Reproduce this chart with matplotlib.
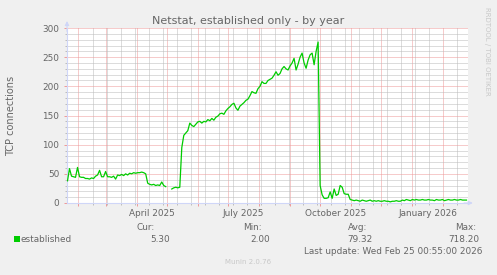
import numpy as np
import matplotlib
matplotlib.use("Agg")
import matplotlib.pyplot as plt
import matplotlib.dates as mdates
from matplotlib.ticker import MultipleLocator, FixedLocator

# Munin "netstat established" - by year, one sample every 2 days
start = np.datetime64("2025-01-22")
step_days = 2

before_gap = [38, 59, 46, 45, 44, 61, 45, 44, 44, 42, 42, 41, 43, 42, 46, 48,
              56, 45, 45, 54, 45, 45, 44, 46, 41, 48, 47, 49, 47, 50, 48, 51,
              50, 52, 51, 52, 52, 53, 52, 50, 34, 32, 31, 32, 30, 31, 30, 36,
              30, 28]
gap = [np.nan, np.nan]
climb = [24, 26, 27, 26, 27, 95, 116, 120, 124, 137, 133, 131, 135, 139, 140,
         137, 140, 139, 143, 141, 145, 142, 147, 149, 153, 154, 152, 158, 162,
         165, 169, 171, 163, 159, 166, 169, 172, 176, 178, 184, 191, 189, 188,
         196, 200, 208, 205, 205, 210, 212, 214, 219, 225, 219, 222, 230, 234,
         230, 228, 235, 240, 248, 228, 238, 250, 257, 240, 231, 245, 254, 257,
         237, 260, 276]
after_drop = [30, 14, 8, 8, 9, 19, 8, 24, 13, 15, 30, 27, 16, 15, 15, 6,
              5, 4, 5, 4, 3, 5, 4, 3, 4, 5, 3, 4, 3, 4, 3, 3, 4, 3, 3, 2,
              3, 3, 4, 3, 3, 5, 4, 6, 5, 4, 6, 5, 6, 5, 5, 6, 5, 5, 6, 5,
              5, 4, 6, 5, 5, 6, 4, 5, 6, 5, 5, 6, 5, 5, 6, 5, 5, 5]

values = np.array(before_gap + gap + climb + after_drop, dtype=float)
dates = start + np.arange(len(values)) * np.timedelta64(step_days, "D")

month_labels = ["April 2025", "July 2025", "October 2025", "January 2026"]
label_dates = ["2025-04-16", "2025-07-16", "2025-10-16", "2026-01-16"]

legend_heads = ["Cur:", "Min:", "Avg:", "Max:"]
legend_vals = ["5.30", "2.00", "79.32", "718.20"]

BACK = "#F0F0F0"
FONT = "#666666"
AXIS = "#CFD6F8"
GREEN = "#00CC00"
MGRID = "#EE9999"
GRID = "#BBBBBB"

W, H = 497, 275
fig = plt.figure(figsize=(W / 100, H / 100), dpi=100, facecolor=BACK)
ax = fig.add_axes([67 / W, 72 / H, 401 / W, 175 / H])
ax.set_facecolor("white")

def fx(px):
    return px / W

def fy(py):
    return 1 - py / H

ax.plot(dates, values, color=GREEN, lw=0.9, zorder=3)

x0 = np.datetime64("2025-01-21T12:00")
ax.set_xlim(x0, x0 + np.timedelta64(400, "D"))
ax.set_ylim(0, 300)

# grid: month starts in red, every other Sunday in gray
ax.xaxis.set_major_locator(mdates.MonthLocator())
sundays = np.arange(np.datetime64("2025-02-16"), np.datetime64("2026-03-01"),
                    np.timedelta64(14, "D"))
sundays = [d for d in sundays if str(d)[-2:] != "01"]
ax.xaxis.set_minor_locator(FixedLocator(mdates.date2num(sundays)))
ax.yaxis.set_major_locator(MultipleLocator(50))
ax.yaxis.set_minor_locator(MultipleLocator(10))
ax.grid(which="minor", color=GRID, lw=0.72, ls=(0, (1, 1)), snap=True)
ax.grid(which="major", color=MGRID, lw=0.72, ls=(0, (1, 1)), snap=True)
ax.set_axisbelow(True)

ax.tick_params(axis="x", which="major", labelbottom=False, length=2.5,
               width=0.7, color=MGRID)
ax.tick_params(axis="x", which="minor", length=1.5, width=0.7, color=GRID)
ax.tick_params(axis="y", which="major", length=2.5, width=0.7, color=MGRID,
               labelsize=6.4, labelcolor=FONT, pad=3)
ax.tick_params(axis="y", which="minor", length=1.5, width=0.7, color=GRID)

for s in ["top", "right"]:
    ax.spines[s].set_visible(False)
for s in ["left", "bottom"]:
    ax.spines[s].set_color(AXIS)
    ax.spines[s].set_linewidth(0.8)

# axis arrows
ax.annotate("", xy=(0, 1.04), xytext=(0, 0.98), xycoords="axes fraction",
            arrowprops=dict(arrowstyle="-|>", color=AXIS, lw=0.8,
                            mutation_scale=6, shrinkA=0, shrinkB=0))
ax.annotate("", xy=(1.012, 0), xytext=(0.99, 0), xycoords="axes fraction",
            arrowprops=dict(arrowstyle="-|>", color=AXIS, lw=0.8,
                            mutation_scale=6, shrinkA=0, shrinkB=0))

for lab, d in zip(month_labels, label_dates):
    ax.text(np.datetime64(d), -0.059, lab, transform=ax.get_xaxis_transform(),
            ha="center", va="center", fontsize=6.4, color=FONT)

fig.text(fx(248), fy(21), "Netstat, established only - by year",
         ha="center", va="center", fontsize=8, color=FONT)
fig.text(fx(11.5), fy(115.5), "TCP connections", rotation=90,
         ha="center", va="center", fontsize=7, color=FONT)
fig.text(fx(487), fy(51), "RRDTOOL / TOBI OETIKER", rotation=270,
         ha="center", va="center", fontsize=5, color="#C8C8C8")

head_x = [155, 261.7, 367.7, 476]
val_x = [170, 270, 373, 479]
for h, hx in zip(legend_heads, head_x):
    fig.text(fx(hx), fy(227), h, ha="right", va="center", fontsize=6.4, color=FONT)
for v, vx in zip(legend_vals, val_x):
    fig.text(fx(vx), fy(239.3), v, ha="right", va="center", fontsize=6.4, color=FONT)

fig.patches.append(plt.Rectangle((fx(14), fy(242)), 6 / W, 6 / H,
                                 transform=fig.transFigure, facecolor=GREEN,
                                 edgecolor="none"))
fig.text(fx(20.7), fy(239.3), "established", ha="left", va="center",
         fontsize=6.4, color=FONT)
fig.text(fx(482), fy(251), "Last update: Wed Feb 25 00:55:00 2026",
         ha="right", va="center", fontsize=6.4, color=FONT)
fig.text(fx(248), fy(262.3), "Munin 2.0.76", ha="center", va="center",
         fontsize=5, color="#C8C8C8")

fig.savefig("out.png", dpi=100, facecolor=BACK)
